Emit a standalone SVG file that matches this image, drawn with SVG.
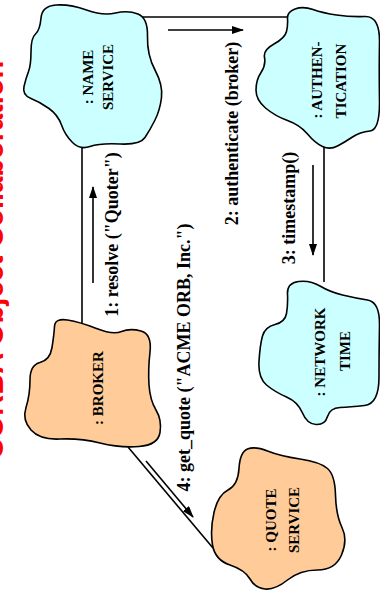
<svg xmlns="http://www.w3.org/2000/svg" width="380" height="592" viewBox="0 0 380 592">
<style>
.cloud{stroke:#000;stroke-width:1.6}
.cyan{fill:#CCFFFF}
.orange{fill:#FFCC99}
.nlabel{font-family:"Liberation Serif","Times New Roman",serif;font-weight:bold;font-size:15px;fill:#000;text-anchor:middle}
.elabel{font-family:"Liberation Serif","Times New Roman",serif;font-weight:bold;font-size:18px;fill:#000;text-anchor:middle}
.title{font-family:"Liberation Sans",Arial,sans-serif;font-weight:bold;font-size:29px;fill:#FF0000;text-anchor:middle}
.conn{stroke:#000;stroke-width:1.6;fill:none}
.arr{stroke:#000;stroke-width:1.6;fill:none;marker-end:url(#ah)}
</style>
<defs>
<marker id="ah" viewBox="0 0 12 8" refX="11" refY="4" markerWidth="12" markerHeight="8" markerUnits="userSpaceOnUse" orient="auto">
<path d="M0,0 L12,4 L0,8 Z" fill="#000"/>
</marker>
</defs>
<text class="title" transform="translate(3,260) rotate(-90)">CORBA Object Collaboration</text>
<g id="connectors">
<line class="conn" x1="82" y1="147" x2="82" y2="325"/>
<line class="conn" x1="138" y1="17" x2="287" y2="17"/>
<line class="conn" x1="324" y1="147" x2="324" y2="282"/>
<line class="conn" x1="128" y1="447" x2="213" y2="548"/>
<line class="arr" x1="146" y1="461" x2="193" y2="517"/>
<line class="arr" x1="93" y1="283" x2="93" y2="187"/>
<line class="arr" x1="168" y1="30" x2="243" y2="30"/>
<line class="arr" x1="313" y1="165" x2="313" y2="255"/>
<text class="elabel" transform="translate(118,234.5) rotate(-90)">1: resolve ("Quoter")</text>
<text class="elabel" transform="translate(238,133.5) rotate(-90)">2: authenticate (broker)</text>
<text class="elabel" transform="translate(295,208) rotate(-90)">3: timestamp()</text>
<text class="elabel" transform="translate(190,357.5) rotate(-90)">4: get_quote ("ACME ORB, Inc.")</text>
</g>
<g id="name-service">
<path class="cloud cyan" d="M35.5,34 Q40,30 41,18 Q42,6 56,5 Q70,4 86.5,10 Q103,16 115.5,13 Q128,10 138,14 Q148,18 147.5,36.5 Q147,55 155,70 Q163,85 161.5,97.5 Q160,110 155,120 Q150,130 145,137.5 Q140,145 120,144 Q100,143 90,146.5 Q80,150 72.5,142.5 Q65,135 61.5,125 Q58,115 49,108.5 Q40,102 31,98.5 Q22,95 24,86.5 Q26,78 28.5,71.5 Q31,65 31,51.5 Q31,38 35.5,34 Z"/>
<text class="nlabel" transform="translate(93,77) rotate(-90)">: NAME</text>
<text class="nlabel" transform="translate(113,77) rotate(-90)">SERVICE</text>
</g>
<g id="authentication">
<path class="cloud cyan" d="M287.5,18.5 Q287,12 295,9 Q303,6 313,9.5 Q323,13 336.5,15 Q350,17 365,16.5 Q380,16 379.5,43 Q379,70 379.5,100 Q380,130 370,131 Q360,132 352.5,137 Q345,142 337.5,146 Q330,150 322.5,146.5 Q315,143 307.5,134 Q300,125 287.5,120.5 Q275,116 265.5,108 Q256,100 256,90 Q256,80 261,72.5 Q266,65 264.5,57.5 Q263,50 274,44 Q285,38 286.5,31.5 Q288,25 287.5,18.5 Z"/>
<text class="nlabel" transform="translate(322,80) rotate(-90)">: AUTHEN-</text>
<text class="nlabel" transform="translate(346,81) rotate(-90)">TICATION</text>
</g>
<g id="network-time">
<path class="cloud cyan" d="M287.5,294 Q287,283 298.5,281.5 Q310,280 320,286 Q330,292 342.5,295 Q355,298 367.5,300 Q380,302 379.5,326 Q379,350 379,377 Q379,404 364.5,405.5 Q350,407 340,407.5 Q330,408 327.5,416.5 Q325,425 316,424.5 Q307,424 302.5,413 Q298,402 286.5,397 Q275,392 266.5,385 Q258,378 259,361.5 Q260,345 262.5,336 Q265,327 275,324.5 Q285,322 286.5,313.5 Q288,305 287.5,294 Z"/>
<text class="nlabel" transform="translate(325,352) rotate(-90)">: NETWORK</text>
<text class="nlabel" transform="translate(350,351) rotate(-90)">TIME</text>
</g>
<g id="broker">
<path class="cloud orange" d="M54.5,326.5 Q55,318 67.5,320 Q80,322 96.5,328.5 Q113,335 121.5,331.5 Q130,328 141,331 Q152,334 150,352 Q148,370 149,385 Q150,400 156,410 Q162,420 160,432.5 Q158,445 139,446.5 Q120,448 100,443 Q80,438 60,439 Q40,440 31,430 Q22,420 26,407.5 Q30,395 30,380 Q30,365 40,362.5 Q50,360 52,347.5 Q54,335 54.5,326.5 Z"/>
<text class="nlabel" transform="translate(103,388) rotate(-90)">: BROKER</text>
</g>
<g id="quote-service">
<path class="cloud orange" d="M239,468.5 Q240,452 247.5,449 Q255,446 267.5,451 Q280,456 300,459 Q320,462 327.5,468.5 Q335,475 335.5,495 Q336,515 342,527.5 Q348,540 341.5,555 Q335,570 317.5,570 Q300,570 287.5,580 Q275,590 265,589 Q255,588 250,579 Q245,570 230,565 Q215,560 212.5,545 Q210,530 214,512.5 Q218,495 228,490 Q238,485 239,468.5 Z"/>
<text class="nlabel" transform="translate(276,520) rotate(-90)">: QUOTE</text>
<text class="nlabel" transform="translate(299,520) rotate(-90)">SERVICE</text>
</g>
</svg>
